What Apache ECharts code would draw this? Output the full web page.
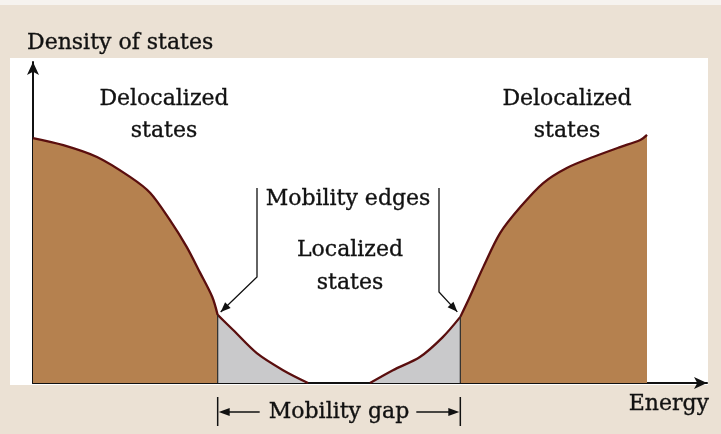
<!DOCTYPE html>
<html>
<head>
<meta charset="utf-8">
<script src="https://cdn.jsdelivr.net/npm/echarts@6.0.0/dist/echarts.min.js"></script>
<style>
  html, body { margin: 0; padding: 0; }
  #chart { width: 721px; height: 434px; }
</style>
</head>
<body>
<div id="chart"></div>
<script>
  // energy 0..100 along the axis, density 0..100 up the axis
  const energyLeft = [0, 4.5, 9.5, 14.4, 17.4, 20.3, 22.8, 24.8, 26.6, 27.4, 29.7, 33.2, 37.1, 40.8];
  const dosLeft = [76.3, 74.1, 70.4, 64.2, 59.2, 50.8, 42.4, 34.3, 26.8, 21.2, 16.5, 9.3, 4.0, 0];
  const energyRight = [50.0, 53.4, 57.4, 60.8, 63.4, 64.8, 66.8, 69.3, 72.3, 75.7, 79.2, 83.1, 87.1, 90.1, 91.1];
  const dosRight = [0, 4.0, 8.1, 14.3, 20.6, 26.8, 36.1, 46.7, 54.8, 62.3, 67.0, 70.4, 73.5, 75.7, 77.3];
  const edgeIndexLeft = 9;
  const edgeIndexRight = 4;

  const BROWN = '#b5814f';
  const GREY = '#c9c9cb';
  const CURVE = '#5a0e0e';
  const INK = '#111111';
  const FONT = '"DejaVu Serif", serif';

  const pts = (xs, ys) => xs.map((x, i) => [x, ys[i]]);
  const left = pts(energyLeft, dosLeft);
  const right = pts(energyRight, dosRight);

  function band(data, color) {
    return {
      type: 'line',
      data: data,
      smooth: 0.3,
      symbol: 'none',
      lineStyle: { color: CURVE, width: 2.3 },
      areaStyle: { color: color, opacity: 1 },
      z: 3
    };
  }
  function edge(p) {
    return {
      type: 'line',
      data: [[p[0], 0], p],
      symbol: 'none',
      lineStyle: { color: '#2a2a2a', width: 1.2 },
      z: 4
    };
  }

  const chart = echarts.init(document.getElementById('chart'));
  chart.setOption({
    backgroundColor: '#ebe1d4',
    animation: false,
    grid: { left: 33, right: 14, top: 62, bottom: 51 },
    xAxis: {
      type: 'value', min: 0, max: 100,
      axisLine: { show: true, lineStyle: { color: INK, width: 2 }, symbol: ['none', 'arrow'], symbolSize: [9, 13], onZero: false },
      axisTick: { show: false }, axisLabel: { show: false }, splitLine: { show: false }
    },
    yAxis: {
      type: 'value', min: 0, max: 100,
      axisLine: { show: true, lineStyle: { color: INK, width: 2 }, symbol: ['none', 'arrow'], symbolSize: [9, 13], onZero: false },
      axisTick: { show: false }, axisLabel: { show: false }, splitLine: { show: false }
    },
    series: [
      band(left.slice(0, edgeIndexLeft + 1), BROWN),
      band(left.slice(edgeIndexLeft), GREY),
      band(right.slice(0, edgeIndexRight + 1), GREY),
      band(right.slice(edgeIndexRight), BROWN),
      edge(left[edgeIndexLeft]),
      edge(right[edgeIndexRight])
    ]
  });

  const px = p => chart.convertToPixel({ gridIndex: 0 }, p);
  const eL = px(left[edgeIndexLeft]);
  const eR = px(right[edgeIndexRight]);
  const base = px([0, 0]);

  function arrowHead(tip, from, len, half) {
    const dx = tip[0] - from[0], dy = tip[1] - from[1];
    const d = Math.sqrt(dx * dx + dy * dy);
    const ux = dx / d, uy = dy / d;
    const bx = tip[0] - ux * len, by = tip[1] - uy * len;
    return {
      type: 'polygon', z: 100,
      shape: { points: [tip, [bx - uy * half, by + ux * half], [bx + uy * half, by - ux * half]] },
      style: { fill: INK }
    };
  }
  function label(str, x, y, align) {
    return {
      type: 'text', z: 100,
      style: {
        text: str, x: x, y: y, font: '22px ' + FONT, fill: INK,
        stroke: INK, lineWidth: 0.35,
        textAlign: align || 'center', textVerticalAlign: 'middle'
      }
    };
  }
  function line(points, w) {
    return { type: 'polyline', z: 100, shape: { points: points }, style: { stroke: INK, lineWidth: w || 1.3, fill: null } };
  }

  const mid = (eL[0] + eR[0]) / 2;
  const tipL = [eL[0] + 3, eL[1] - 3];
  const kneeL = [257, 277];
  const tipR = [eR[0] - 3, eR[1] - 5];
  const kneeR = [439, 292];
  const gapY = 412;

  chart.setOption({
    graphic: [
      { type: 'rect', z: 0, shape: { x: 0, y: 0, width: 721, height: 5 }, style: { fill: '#f6f3ef' } },
      { type: 'rect', z: 0, shape: { x: 10, y: 58, width: 698, height: base[1] + 2 - 58 }, style: { fill: '#ffffff' } },
      label('Density of states', 27, 43, 'left'),
      label('Delocalized', 164, 99),
      label('states', 164, 131),
      label('Delocalized', 567, 99),
      label('states', 567, 131),
      label('Mobility edges', 348, 199),
      label('Localized', 350, 250),
      label('states', 350, 283),
      line([[kneeL[0], 188], kneeL, tipL]),
      arrowHead(tipL, kneeL, 10, 4),
      line([[kneeR[0], 188], kneeR, tipR]),
      arrowHead(tipR, kneeR, 10, 4),
      label('Energy', 709, 404, 'right'),
      label('Mobility gap', mid, gapY),
      line([[eL[0], 397], [eL[0], 426]], 1.5),
      line([[eR[0], 397], [eR[0], 426]], 1.5),
      line([[eL[0] + 6, gapY], [eL[0] + 42, gapY]], 1.5),
      arrowHead([eL[0] + 1, gapY], [eL[0] + 42, gapY], 11, 4),
      line([[eR[0] - 44, gapY], [eR[0] - 6, gapY]], 1.5),
      arrowHead([eR[0] - 1, gapY], [eR[0] - 44, gapY], 11, 4)
    ]
  });
</script>
</body>
</html>
